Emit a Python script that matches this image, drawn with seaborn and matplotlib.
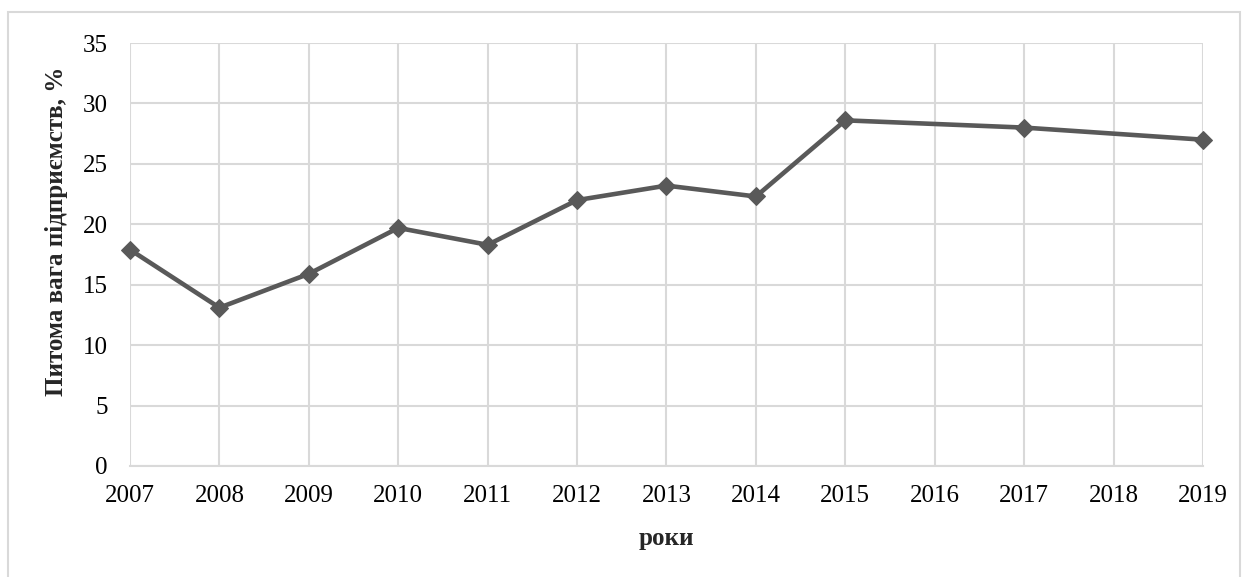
import matplotlib
matplotlib.use("Agg")
import matplotlib.pyplot as plt
import pandas as pd
import seaborn as sns
from matplotlib.patches import Rectangle

years = [2007, 2008, 2009, 2010, 2011, 2012, 2013, 2014, 2015, 2017, 2019]
share = [17.9, 13.1, 15.9, 19.7, 18.3, 22.0, 23.2, 22.3, 28.6, 28.0, 27.0]
tick_years = list(range(2007, 2020))
y_ticks = [0, 5, 10, 15, 20, 25, 30, 35]

sns.set_style("white")
plt.rcParams["font.family"] = ["Liberation Serif", "DejaVu Serif"]

df = pd.DataFrame({"year": years, "share": share})

fig = plt.figure(figsize=(12.47, 5.77), dpi=100)
ax = fig.add_axes([130 / 1247, 1 - 466 / 577, (1203 - 130) / 1247, (466 - 43) / 577])

sns.lineplot(data=df, x="year", y="share", ax=ax, color="#595959", linewidth=3.3,
             marker="D", markersize=9.5, markeredgecolor="#595959")
for line in ax.lines:
    line.set_clip_on(False)

ax.set_xlim(tick_years[0], tick_years[-1])
ax.set_ylim(y_ticks[0], y_ticks[-1])
ax.set_xticks(tick_years)
ax.set_xticklabels([str(y) for y in tick_years])
ax.set_yticks(y_ticks)
ax.grid(True, color="#d9d9d9", linewidth=1.5)
ax.set_axisbelow(True)
for side in ["top", "right", "left"]:
    ax.spines[side].set_visible(False)
ax.spines["bottom"].set_color("#d9d9d9")
ax.spines["bottom"].set_linewidth(1.5)
ax.tick_params(axis="both", length=0, labelsize=18, colors="black")
ax.tick_params(axis="x", pad=14)
ax.tick_params(axis="y", pad=16)

ax.set_xlabel("роки", fontsize=18, fontweight="bold", labelpad=14)
ax.set_ylabel("Питома вага підприємств, %", fontsize=18, fontweight="bold")
ax.yaxis.set_label_coords(-0.058, 0.555)

fig.patches.append(Rectangle((8 / 1247, -0.01), (1240 - 8) / 1247, 1 - 12 / 577 + 0.01,
                             transform=fig.transFigure, fill=False,
                             edgecolor="#d9d9d9", linewidth=1.5))

fig.savefig("out.png", dpi=100)
